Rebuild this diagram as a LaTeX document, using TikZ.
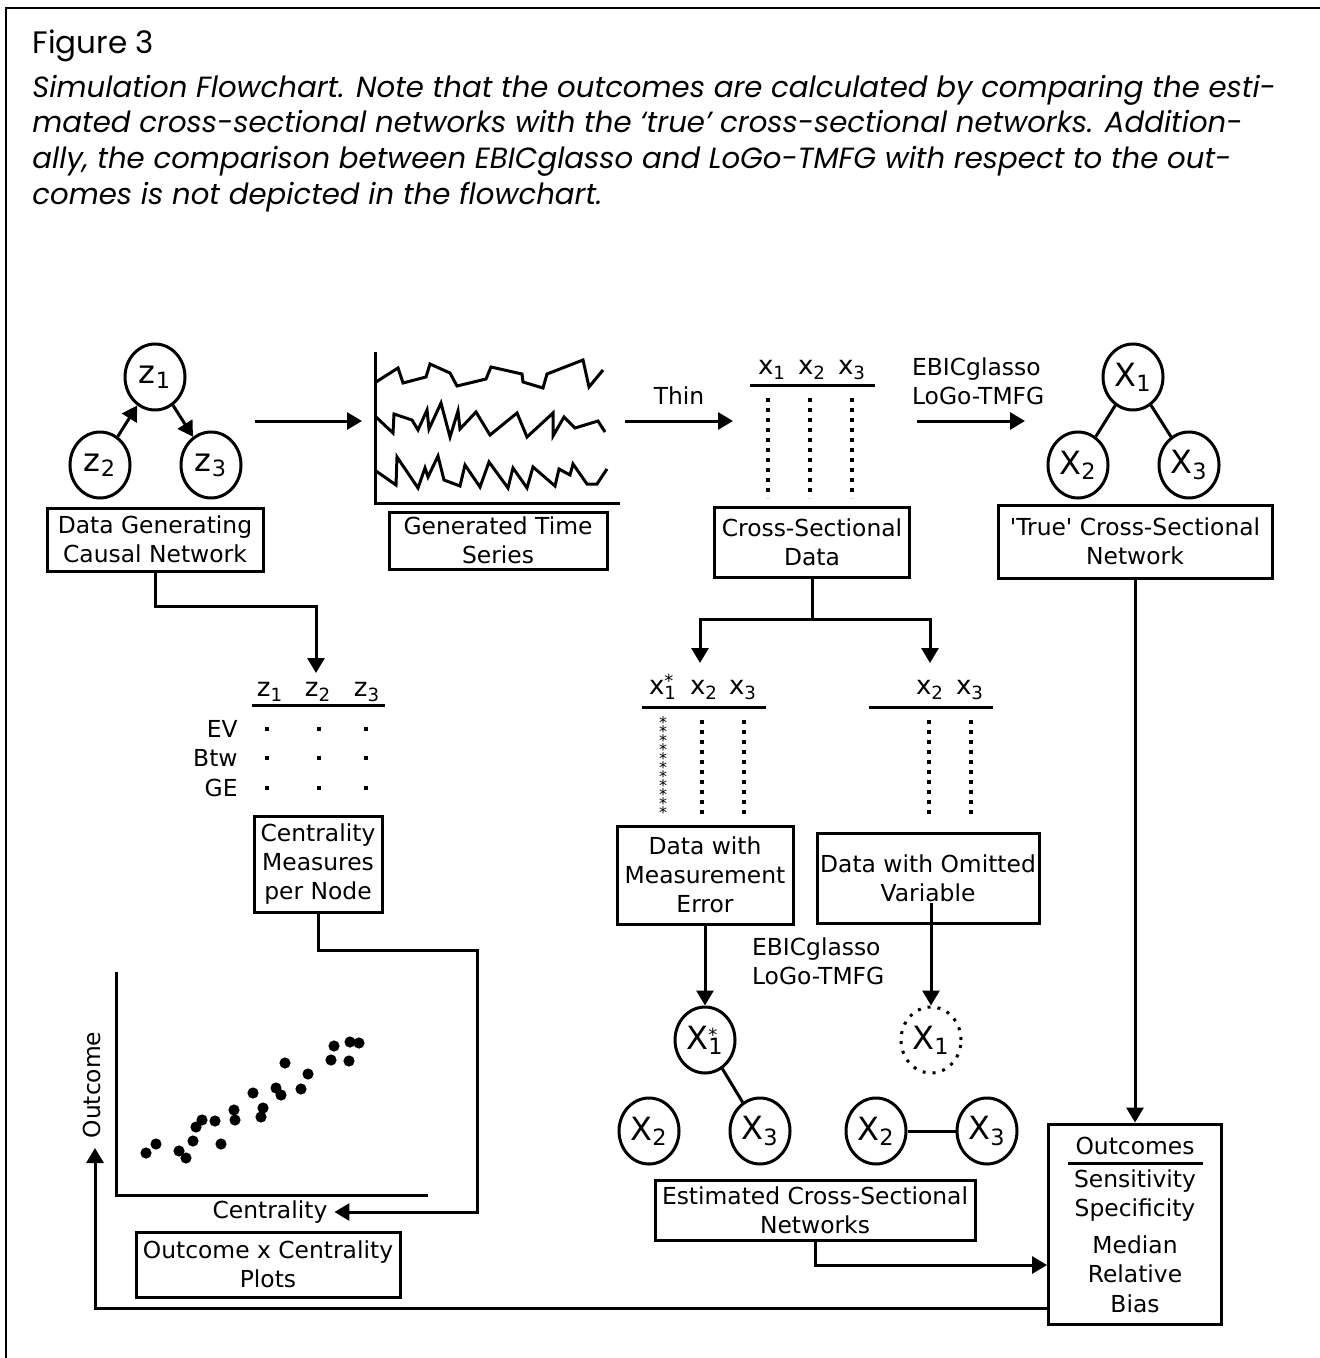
\documentclass[tikz,border=0pt]{standalone}
\usepackage{fontspec}
\setmainfont{DejaVu Sans}
\newfontfamily\capfont{Poppins}
\usetikzlibrary{arrows.meta,shapes.geometric}

\newcommand{\starsub}[2]{#1\rlap{\raisebox{0.24em}{\small *}}\textsubscript{#2}}
\newcommand{\tightlines}{\lineskiplimit=-20pt\relax}

\begin{document}
\begin{tikzpicture}[x=0.5pt, y=-0.5pt,
    every node/.style={font=\fontsize{11.7}{14.5}\selectfont},
    box/.style={draw, line width=1.5pt, align=center, inner sep=0pt},
    var/.style={draw, ellipse, line width=1.5pt, minimum width=30pt, minimum height=33pt, inner sep=0pt, font=\fontsize{16}{16}\selectfont},
    head/.style={font=\fontsize{13}{13}\selectfont, anchor=base},
    link/.style={line width=1.5pt},
    flow/.style={line width=1.5pt, -{Triangle[length=7.5pt, width=8.5pt]}},
    dotcol/.style={line width=2pt, dash pattern=on 2pt off 3pt},
    captext/.style={anchor=base west, inner sep=0pt, font=\capfont\itshape\fontsize{14.6}{14.6}\selectfont},
  ]
\useasboundingbox (0,0) rectangle (1320,1358);
\draw[line width=1pt] (6,1358) -- (6,8) -- (1320,8);

% caption
\node[anchor=base west, inner sep=0pt, font=\capfont\fontsize{15.5}{15.5}\selectfont] (fig) at (32,54) {Figure 3};
\node[captext] (c1) at (32,98) {Simulation Flowchart. Note that the outcomes are calculated by comparing the esti-};
\node[captext] (c2) at (32,133) {mated cross-sectional networks with the ‘true’ cross-sectional networks. Addition-};
\node[captext] (c3) at (32,169) {ally, the comparison between EBICglasso and LoGo-TMFG with respect to the out-};
\node[captext] (c4) at (32,205) {comes is not depicted in the flowchart.};

% data generating network
\node[var] (Z1) at (155,377) {z\textsubscript{1}};
\node[var] (Z2) at (100,465) {z\textsubscript{2}};
\node[var] (Z3) at (211,465) {z\textsubscript{3}};
\draw[flow] (Z2) -- (Z1);
\draw[flow] (Z1) -- (Z3);
\node[box, minimum width=108pt, minimum height=31.5pt] (DGCN) at (155,539.5) {Data Generating\\Causal Network};

\coordinate (gA) at (255,421);
\coordinate (gB) at (362,421);
\draw[flow] (gA) -- (gB);

% time series
\draw[link] (375,352) -- (375,503) -- (620,503);
\draw[link] (376,382) -- (398,368) -- (403,383) -- (426,377) -- (430,364) -- (450,373) -- (457,386) -- (486,379) -- (491,367) -- (522,374) -- (523,382) -- (543,388) -- (547,374) -- (583,360) -- (589,387) -- (603,370);
\draw[link] (376,417) -- (393,433) -- (394,414) -- (412,420) -- (418,430) -- (427,410) -- (429,429) -- (441,403) -- (450,437) -- (458,411) -- (460,429) -- (476,412) -- (490,435) -- (517,413) -- (527,437) -- (553,413) -- (553,436) -- (564,417) -- (575,428) -- (598,421) -- (605,432);
\draw[link] (376,471) -- (396,485) -- (397,457) -- (418,488) -- (425,468) -- (428,477) -- (438,456) -- (444,480) -- (460,486) -- (465,465) -- (480,487) -- (489,462) -- (508,488) -- (513,468) -- (527,488) -- (533,467) -- (555,486) -- (559,469) -- (570,475) -- (573,464) -- (587,484) -- (597,484) -- (607,469);
\node[box, minimum width=109pt, minimum height=28.5pt] (GTS) at (498,540.5) {Generated Time\\Series};

\coordinate (tA) at (625,421);
\coordinate (tB) at (733,421);
\draw[flow] (tA) -- node[above=4pt] (thin) {Thin} (tB);

% cross-sectional data
\node[head] (h1) at (772,374) {x\textsubscript{1}};
\node[head] (h2) at (812,374) {x\textsubscript{2}};
\node[head] (h3) at (852,374) {x\textsubscript{3}};
\draw[link] (750,385) -- (875,385);
\foreach \cx in {768,810,852}
  \draw[dotcol] (\cx,398) -- (\cx,498);
\node[box, minimum width=97.5pt, minimum height=35pt] (CSD) at (812,542) {Cross-Sectional\\Data};

\coordinate (eA) at (917,421);
\coordinate (eB) at (1025,421);
\draw[flow] (eA) -- (eB);
\node[anchor=west, align=left] (est1) at (905,381) {EBICglasso\\LoGo-TMFG};

% true network
\node[var] (X1) at (1133,377) {X\textsubscript{1}};
\node[var] (X2) at (1078,465) {X\textsubscript{2}};
\node[var] (X3) at (1189,465) {X\textsubscript{3}};
\draw[link] (X1) -- (X2);
\draw[link] (X1) -- (X3);
\node[box, minimum width=137pt, minimum height=36.5pt] (TCSN) at (1135,541.5) {\textquotesingle True\textquotesingle{} Cross-Sectional\\Network};

% centrality table
\coordinate (cmTop) at (316,673);
\draw[flow] (DGCN.south) -- ++(0,-17pt) -| (cmTop);
\node[head] (m1) at (270,696) {z\textsubscript{1}};
\node[head] (m2) at (318,696) {z\textsubscript{2}};
\node[head] (m3) at (367,696) {z\textsubscript{3}};
\draw[link] (252,705) -- (385,705);
\node[anchor=base east, inner sep=0pt] (ev) at (238,737) {EV};
\node[anchor=base east, inner sep=0pt] (btw) at (238,766) {Btw};
\node[anchor=base east, inner sep=0pt] (ge) at (238,796) {GE};
\foreach \ry in {729,758,788}
  \foreach \rx in {267,319,366}
    \fill ([xshift=-1pt,yshift=-1pt]\rx,\ry) rectangle ++(2pt,2pt);
\node[box, minimum width=64pt, minimum height=48pt] (CMPN) at (318,864) {Centrality\\Measures\\per Node};

% scatter plot
\draw[link] (116,972) -- (116,1195) -- (428,1195);
\foreach \px/\py in {146/1153,156/1144,179/1151,186/1158,193/1141,196/1127,202/1120,215/1121,221/1144,234/1110,235/1120,253/1093,261/1117,263/1108,276/1088,281/1095,285/1063,301/1089,308/1074,331/1060,334/1046,349/1061,350/1042,359/1043}
  \fill (\px,\py) circle (2.8pt);
\node[rotate=90] (outl) at (92,1085) {Outcome};
\node (cent) at (270,1212) {Centrality};
\coordinate (cmR) at (477,950);
\draw[flow] (CMPN.south) |- (cmR) |- (cent.east);
\node[box, minimum width=132pt, minimum height=32.5pt] (OCP) at (268,1264.5) {Outcome x Centrality\\Plots};

% split of the cross-sectional data
\coordinate (meTop) at (700,663);
\coordinate (ovTop) at (930,663);
\draw[link] (CSD.south) -- ++(0,-20.5pt) coordinate (sp);
\draw[flow] (sp) -| (meTop);
\draw[flow] (sp) -| (ovTop);

% measurement error data
\node[head] (e1) at (663,694) {\starsub{x}{1}};
\node[head] (e2) at (704,694) {x\textsubscript{2}};
\node[head] (e3) at (743,694) {x\textsubscript{3}};
\draw[link] (642,707) -- (766,707);
\node[inner sep=0pt, align=center, font={\fontsize{8}{4.5}\selectfont\tightlines}] (ast) at (663,768) {*\\*\\*\\*\\*\\*\\*\\*\\*\\*\\*};
\foreach \cx in {702,744}
  \draw[dotcol] (\cx,720) -- (\cx,816);
\node[box, minimum width=88pt, minimum height=49pt] (DME) at (705,875) {Data with\\Measurement\\Error};

% omitted variable data
\node[head] (o2) at (930,694) {x\textsubscript{2}};
\node[head] (o3) at (970,694) {x\textsubscript{3}};
\draw[link] (869,707) -- (993,707);
\foreach \cx in {929,971}
  \draw[dotcol] (\cx,720) -- (\cx,816);
\node[box, minimum width=111pt, minimum height=45pt] (DOV) at (928,878) {Data with Omitted\\Variable};

% estimated networks
\node[var] (X1s) at (705,1040) {\starsub{X}{1}};
\node[var] (X2s) at (649,1131) {X\textsubscript{2}};
\node[var] (X3s) at (760,1131) {X\textsubscript{3}};
\draw[link] (X1s) -- (X3s);
\node[var, dash pattern=on 1.5pt off 3.5pt] (X1o) at (931,1040) {X\textsubscript{1}};
\node[var] (X2o) at (876,1131) {X\textsubscript{2}};
\node[var] (X3o) at (987,1131) {X\textsubscript{3}};
\draw[link] (X2o) -- (X3o);
\draw[flow] (DME) -- (X1s);
\coordinate (ovA) at (931,903);
\draw[flow] (ovA) -- (X1o);
\node[anchor=west, align=left] (est2) at (745,961) {EBICglasso\\LoGo-TMFG};
\node[box, minimum width=160pt, minimum height=30pt] (ECSN) at (815,1210) {Estimated Cross-Sectional\\Networks};

% outcomes
\node[box, minimum width=86.5pt, minimum height=100pt] (OUTC) at (1135,1224) {};
\node[anchor=base] (oc0) at (1135,1154) {Outcomes};
\draw[link] (1068,1163) -- (1203,1163);
\node[anchor=base] (oc1) at (1135,1187) {Sensitivity};
\node[anchor=base] (oc2) at (1135,1216) {Specificity};
\node[anchor=base] (oc3) at (1135,1253) {Median};
\node[anchor=base] (oc4) at (1135,1282) {Relative};
\node[anchor=base] (oc5) at (1135,1312) {Bias};
\draw[flow] (TCSN.south) -- (OUTC.north);
\draw[flow] (ECSN.south) |- ([yshift=-20.5pt]OUTC.west);
\coordinate (outlTip) at (95,1148);
\draw[flow] ([yshift=-42pt]OUTC.west) -| (outlTip);
\end{tikzpicture}
\end{document}
